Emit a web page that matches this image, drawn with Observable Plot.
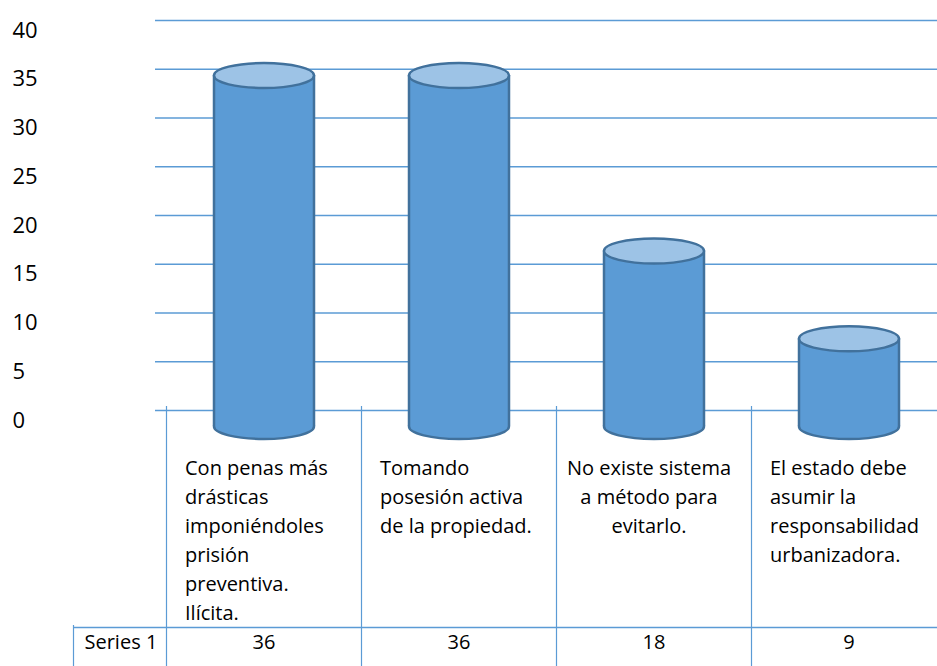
<!DOCTYPE html>
<html><head><meta charset="utf-8">
<script src="https://cdn.jsdelivr.net/npm/d3@7"></script>
<script src="https://cdn.jsdelivr.net/npm/@observablehq/plot@0.6"></script>
<style>body{margin:0;background:#fff}#chart svg{display:block}</style>
</head><body><div id="chart"></div>
<script>
const categories = [
  "Con penas más\ndrásticas\nimponiéndoles\nprisión\npreventiva.\nIlícita.",
  "Tomando\nposesión activa\nde la propiedad.",
  "No existe sistema\na método para\nevitarlo.",
  "El estado debe\nasumir la\nresponsabilidad\nurbanizadora."
];
const values = [36, 36, 18, 9];
const seriesName = "Series 1";
const yTicks = [0, 5, 10, 15, 20, 25, 30, 35, 40];

const data = categories.map((c, i) => ({cat: c, value: values[i]}));

const gridColor = "#5B9BD5";
const bodyColor = "#5B9BD5";
const topColor = "#9DC3E6";
const edgeColor = "#41719C";

function ellipse(rx, ry) {
  const k = 0.5523;
  return {
    draw(ctx) {
      ctx.moveTo(rx, 0);
      ctx.bezierCurveTo(rx, k * ry, k * rx, ry, 0, ry);
      ctx.bezierCurveTo(-k * rx, ry, -rx, k * ry, -rx, 0);
      ctx.bezierCurveTo(-rx, -k * ry, -k * rx, -ry, 0, -ry);
      ctx.bezierCurveTo(k * rx, -ry, rx, -k * ry, rx, 0);
      ctx.closePath();
    }
  };
}
const cap = ellipse(50, 12.5);
const base = 16;

const chart = Plot.plot({
  width: 937,
  height: 666,
  margin: 0,
  style: {fontFamily: "'Open Sans', sans-serif", background: "#fff", color: "#000"},
  x: {type: "band", domain: categories, range: [166, 946], padding: 0, axis: null},
  y: {domain: [0, 40], range: [410, 20], axis: null},
  marks: [
    Plot.ruleY(yTicks, {y: d => d, stroke: gridColor, strokeWidth: 1.3, insetLeft: 155}),
    Plot.ruleX(categories, {x: d => d, dx: -97.5, insetTop: 406, stroke: gridColor, strokeWidth: 1.2}),
    Plot.ruleX([categories[0]], {x: d => d, dx: -190.5, insetTop: 625, stroke: gridColor, strokeWidth: 1.2}),
    Plot.ruleY([0], {y: d => d, dy: 217, insetLeft: 73, stroke: gridColor, strokeWidth: 1.3}),
    Plot.dot(data, {x: "cat", y: d => 0, dy: base, symbol: cap, fill: bodyColor, stroke: edgeColor, strokeWidth: 2.5}),
    Plot.barY(data, {x: "cat", y1: d => 0, y2: "value", dy: base, fill: bodyColor, insetLeft: 47.5, insetRight: 47.5}),
    Plot.ruleX(data, {x: "cat", y1: d => 0, y2: "value", dx: -50, dy: base, stroke: edgeColor, strokeWidth: 2.5}),
    Plot.ruleX(data, {x: "cat", y1: d => 0, y2: "value", dx: 50, dy: base, stroke: edgeColor, strokeWidth: 2.5}),
    Plot.dot(data, {x: "cat", y: "value", dy: base, symbol: cap, fill: topColor, stroke: edgeColor, strokeWidth: 2.5}),
    Plot.text(yTicks, {y: d => d, text: d => String(d), frameAnchor: "left", dx: 12, dy: 10, textAnchor: "start", fontSize: 22, fill: "#000"}),
    Plot.text(categories, {filter: (d, i) => i !== 2, x: d => d, y: d => 0, text: d => d, dy: 44, dx: -79, lineAnchor: "top", textAnchor: "start", lineHeight: 1.45, fontSize: 20, fill: "#000"}),
    Plot.text(categories, {filter: (d, i) => i === 2, x: d => d, y: d => 0, text: d => d, dy: 44, dx: -5, lineAnchor: "top", textAnchor: "middle", lineHeight: 1.45, fontSize: 20, fill: "#000"}),
    Plot.text([seriesName], {frameAnchor: "left", y: d => 0, text: d => d, dx: 84, dy: 232, textAnchor: "start", fontSize: 20, fill: "#000"}),
    Plot.text(data, {x: "cat", y: d => 0, text: d => String(d.value), dy: 232, fontSize: 20, fill: "#000"})
  ]
});
document.getElementById("chart").appendChild(chart);
</script>
</body></html>
